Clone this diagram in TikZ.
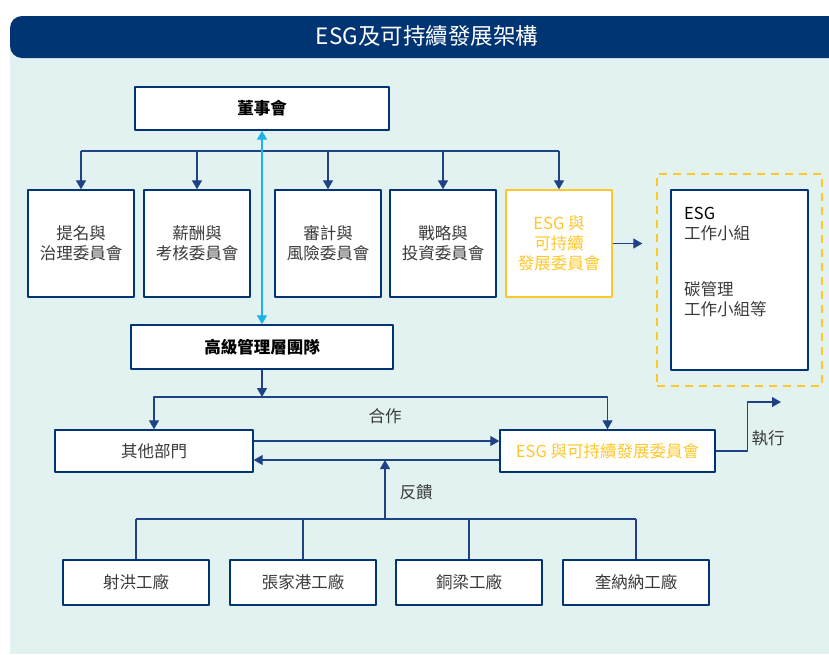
\documentclass[tikz,border=0pt]{standalone}
\usepackage{fontspec}
\setmainfont{Noto Sans CJK TC}
\usetikzlibrary{arrows.meta}
\definecolor{navy}{HTML}{003473}
\definecolor{linkblue}{HTML}{1F4287}
\definecolor{esgyellow}{HTML}{FFC72C}
\definecolor{skyline}{HTML}{1DB3EA}
\definecolor{panelbg}{HTML}{E1F2F1}
\definecolor{txtgray}{HTML}{3A3A3A}
\begin{document}
\begin{tikzpicture}[x=1pt,y=-1pt,>={Triangle[length=9pt,width=10pt]},line join=round,
	font=\fontsize{16.5}{20}\selectfont,
	box/.style={draw=navy,line width=1.4pt,fill=white,text=txtgray,inner sep=0pt,align=center},
	esgbox/.style={box,draw=esgyellow,text=esgyellow},
	link/.style={draw=linkblue,line width=1.3pt},
	lbl/.style={text=txtgray}]
	\useasboundingbox (0,0) rectangle (829,654);
	\clip (0,0) rectangle (829,654);
	% panel and title bar
	\fill[panelbg] (10,40) rectangle (829,654);
	\fill[navy,rounded corners=12pt] (10,16) rectangle (860,58);
	\node[text=white,font=\fontsize{22.5}{26}\selectfont] (title) at (427,36) {ESG及可持續發展架構};
	% board and committees
	\node[box,text=black,minimum width=254,minimum height=43] (board) at (262,108.5) {\bfseries 董事會};
	\foreach \cx/\nm/\txt in {81/c1/提名與\\治理委員會,197/c2/薪酬與\\考核委員會,328/c3/審計與\\風險委員會,443/c4/戰略與\\投資委員會}
		\node[box,minimum width=106,minimum height=107] (\nm) at (\cx,243.5) {\txt};
	\node[esgbox,minimum width=106,minimum height=107] (c5) at (559,243.5) {ESG 與\\可持續\\發展委員會};
	\coordinate (bus1) at (262,151);
	\draw[link] (c1.north |- bus1) -- (c5.north |- bus1);
	\foreach \nm in {c1,c2,c3,c4,c5}
		\draw[link,->] (\nm.north |- bus1) -- (\nm.north);
	% working groups
	\node[draw=esgyellow,line width=1.4pt,dash pattern=on 8pt off 6pt,minimum width=165,minimum height=212] (wgframe) at (739.5,280) {};
	\node[box,minimum width=137,minimum height=180] (wg) at (739.5,280) {};
	\node[lbl,anchor=north west,align=left,inner sep=0pt] (wgesg) at (684,207) {\textcolor{black}{ESG}\\工作小組};
	\node[lbl,anchor=north west,align=left,inner sep=0pt] (wgcarbon) at (684,281) {碳管理\\工作小組等};
	\draw[link,->] (c5.east) -- (c5.east -| wgframe.west) [shorten >=14pt];
	% senior management
	\node[box,text=black,minimum width=262,minimum height=44] (senior) at (262,347) {\bfseries 高級管理層團隊};
	\draw[skyline,line width=1.3pt,<->] (senior.north) -- (board.south);
	\node[box,minimum width=198,minimum height=42] (other) at (154,451) {其他部門};
	\node[esgbox,draw=navy,minimum width=215,minimum height=42] (esgc) at (607.5,451) {ESG 與可持續發展委員會};
	\coordinate (bus2) at (262,397);
	\draw[link,->] (senior.south) -- (bus2);
	\draw[link,->] (bus2) -| (other.north);
	\draw[link,->] (bus2) -| (esgc.north);
	\node[lbl] (coop) at (385,416) {合作};
	\draw[link,->] ([yshift=10pt]other.east) -- ([yshift=10pt]esgc.west);
	\draw[link,->] ([yshift=-9pt]esgc.west) -- ([yshift=-9pt]other.east);
	\coordinate (exec) at (781,402);
	\draw[link,->] (esgc.east) -- ++(32,0) |- (exec);
	\node[lbl] (execlbl) at (768,438) {執行};
	% plants
	\foreach \cx/\nm/\txt in {136/f1/射洪工廠,303/f2/張家港工廠,469/f3/銅梁工廠,636/f4/奎納納工廠}
		\node[box,minimum width=146,minimum height=45] (\nm) at (\cx,582.5) {\txt};
	\coordinate (bus3) at (385,519);
	\coordinate (fbhit) at (385,460);
	\draw[link] (f1.north |- bus3) -- (f4.north |- bus3);
	\foreach \nm in {f1,f2,f3,f4}
		\draw[link] (\nm.north |- bus3) -- (\nm.north);
	\draw[link,->] (bus3) -- (fbhit);
	\node[lbl] (fblbl) at (416,492) {反饋};
\end{tikzpicture}
\end{document}
